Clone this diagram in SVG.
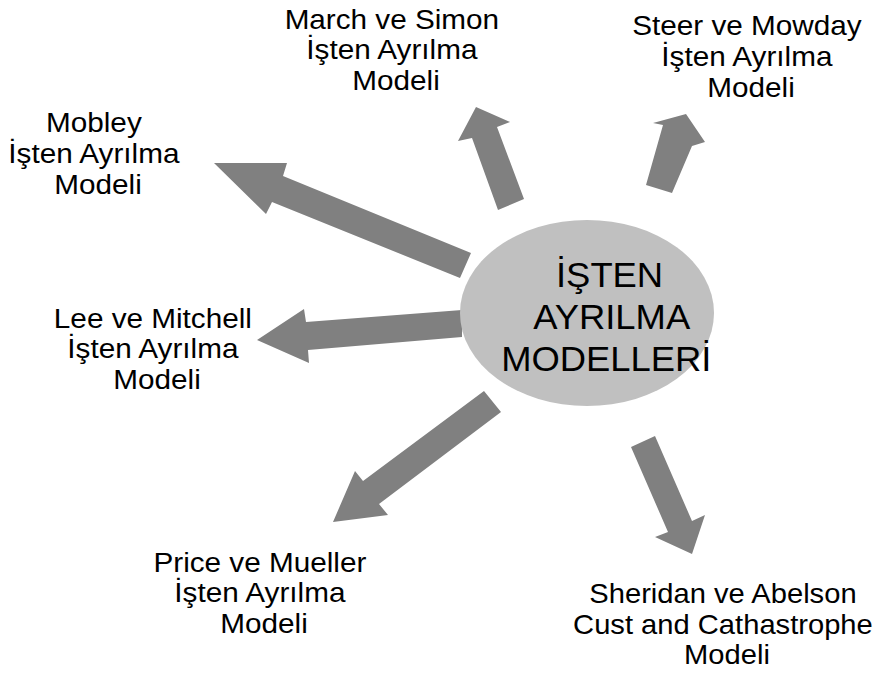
<svg xmlns="http://www.w3.org/2000/svg" width="879" height="682" viewBox="0 0 879 682">
  <style>
    .arrow { fill: #808080; stroke: none; }
    .hub { fill: #c0c0c0; stroke: none; }
    .label { font-family: "Liberation Sans", Arial, sans-serif; font-size: 27.5px; fill: #000; text-anchor: middle; }
    .hub-text { font-family: "Liberation Sans", Arial, sans-serif; font-size: 35px; fill: #000; text-anchor: middle; }
  </style>
  <rect width="879" height="682" fill="#ffffff"/>

  <!-- block arrows radiating from the central ellipse -->
  <g id="connectors">
    <polygon class="arrow" points="214,163 287,163 283,176 471,253 460,278 272,202 266,214"/>
    <polygon class="arrow" points="476,107 510,122 497,127 524,199 498,210 472,138 458,141"/>
    <polygon class="arrow" points="686,114 705,142 692,146 672,193 646,185 663,125 653,123"/>
    <polygon class="arrow" points="257,340 304,309 306,322 462,310 462,337 308,350 309,363"/>
    <polygon class="arrow" points="333,522 355,471 363,481 484,391 501,412 379,504 388,515"/>
    <polygon class="arrow" points="631,447 655,436 692,521 705,515 692,554 655,537 668,532"/>
  </g>

  <g id="hub">
    <ellipse class="hub" cx="587" cy="313" rx="127" ry="93"/>
    <text class="hub-text" transform="scale(1.04,1)">
      <tspan x="591" y="287">İŞTEN</tspan>
      <tspan x="593" y="329">AYRILMA</tspan>
      <tspan x="583" y="371">MODELLERİ</tspan>
    </text>
  </g>

  <g id="mobley">
    <text class="label" transform="translate(98,0) scale(1.08,1)">
      <tspan x="0" y="132">Mobley</tspan>
      <tspan x="0" y="163">İşten Ayrılma</tspan>
      <tspan x="0" y="194">Modeli</tspan>
    </text>
  </g>

  <g id="march-simon">
    <text class="label" transform="translate(396,0) scale(1.08,1)">
      <tspan x="0" y="29">March ve Simon</tspan>
      <tspan x="0" y="59">İşten Ayrılma</tspan>
      <tspan x="0" y="90">Modeli</tspan>
    </text>
  </g>

  <g id="steer-mowday">
    <text class="label" transform="translate(751,0) scale(1.08,1)">
      <tspan x="0" y="35">Steer ve Mowday</tspan>
      <tspan x="0" y="66">İşten Ayrılma</tspan>
      <tspan x="0" y="97">Modeli</tspan>
    </text>
  </g>

  <g id="lee-mitchell">
    <text class="label" transform="translate(157,0) scale(1.08,1)">
      <tspan x="0" y="328">Lee ve Mitchell</tspan>
      <tspan x="0" y="358">İşten Ayrılma</tspan>
      <tspan x="0" y="389">Modeli</tspan>
    </text>
  </g>

  <g id="price-mueller">
    <text class="label" transform="translate(264,0) scale(1.08,1)">
      <tspan x="0" y="572">Price ve Mueller</tspan>
      <tspan x="0" y="602">İşten Ayrılma</tspan>
      <tspan x="0" y="633">Modeli</tspan>
    </text>
  </g>

  <g id="sheridan-abelson">
    <text class="label" transform="translate(727,0) scale(1.06,1)">
      <tspan x="0" y="603">Sheridan ve Abelson</tspan>
      <tspan x="0" y="634">Cust and Cathastrophe</tspan>
      <tspan x="0" y="664">Modeli</tspan>
    </text>
  </g>
</svg>
